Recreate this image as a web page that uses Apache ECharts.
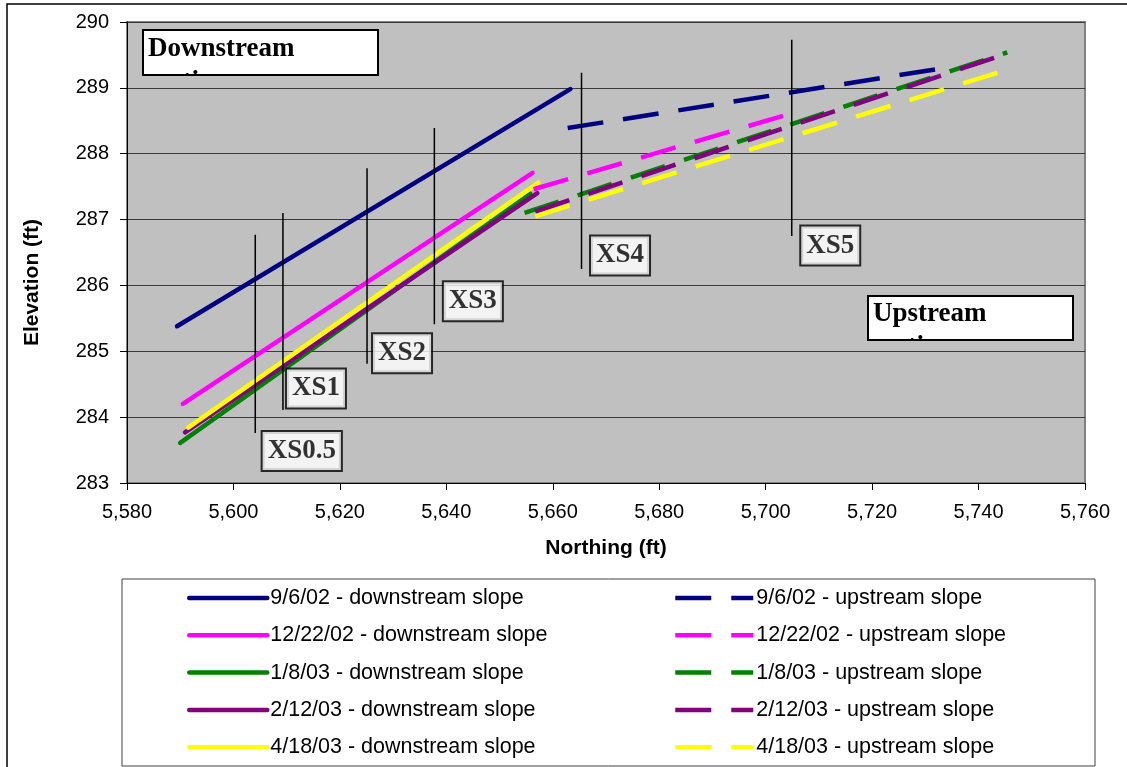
<!DOCTYPE html>
<html>
<head>
<meta charset="utf-8">
<script src="https://cdn.jsdelivr.net/npm/echarts@6/dist/echarts.min.js"></script>
<style>
html,body{margin:0;padding:0;background:#fff;}
#chart{width:1127px;height:767px;}
</style>
</head>
<body>
<div id="chart"></div>
<script>
// ---------- data ----------
const surveyDates = ['9/6/02', '12/22/02', '1/8/03', '2/12/03', '4/18/03'];

// downstream slope lines: [start, end]
const downNorthing = [
  [5589.4, 5663.3],
  [5590.5, 5656.2],
  [5590.0, 5655.8],
  [5590.9, 5657.1],
  [5591.5, 5657.3]
];
const downElevation = [
  [285.38, 288.98],
  [284.20, 287.71],
  [283.61, 287.39],
  [283.77, 287.40],
  [283.84, 287.56]
];

// upstream slope lines: [start, end]
const upNorthing = [
  [5662.8, 5732.6],
  [5656.4, 5706.8],
  [5654.7, 5745.4],
  [5656.7, 5743.4],
  [5656.7, 5744.4]
];
const upElevation = [
  [288.39, 289.29],
  [287.46, 288.66],
  [287.10, 289.54],
  [287.12, 289.47],
  [287.05, 289.25]
];

// cross-section marker lines
const xsNames    = ['XS0.5', 'XS1', 'XS2', 'XS3', 'XS4', 'XS5'];
const xsNorthing = [5604.1, 5609.3, 5625.1, 5637.75, 5665.4, 5704.9];
const xsTop      = [286.77, 287.10, 287.78, 288.39, 289.23, 289.73];
const xsBottom   = [283.76, 284.11, 284.81, 285.41, 286.25, 286.75];

// axis ticks
const xTickMin = 5580, xTickMax = 5760, xTickStep = 20;
const yTickMin = 283, yTickMax = 290, yTickStep = 1;

// ---------- styling ----------
const lineColors = ['#000080', '#FF00FF', '#008000', '#800080', '#FFFF00'];
const xsLabelOffsets = [[46.5, 18], [33, -21.5], [35, -10.5], [38.5, -23], [38.5, -13.5], [38.5, 9.5]];
const sansFont = 'Liberation Sans';
const serifFont = 'Liberation Serif';

function addCommas(v) {
  return String(v).replace(/\B(?=(\d{3})+(?!\d))/g, ',');
}

const series = [];
const downNames = surveyDates.map(d => d + ' - downstream slope');
const upNames = surveyDates.map(d => d + ' - upstream slope');

surveyDates.forEach((d, i) => {
  series.push({
    name: downNames[i],
    type: 'line',
    symbol: 'none',
    showSymbol: false,
    data: downNorthing[i].map((x, k) => [x, downElevation[i][k]]),
    lineStyle: { color: lineColors[i], width: 4.5, cap: 'round' },
    itemStyle: { color: lineColors[i] },
    z: 3
  });
});
surveyDates.forEach((d, i) => {
  series.push({
    name: upNames[i],
    type: 'line',
    symbol: 'none',
    showSymbol: false,
    data: upNorthing[i].map((x, k) => [x, upElevation[i][k]]),
    lineStyle: { color: lineColors[i], width: 4.5, type: [36, 20], cap: 'butt' },
    itemStyle: { color: lineColors[i] },
    z: 3
  });
});
xsNames.forEach((n, i) => {
  series.push({
    name: n + ' line',
    type: 'line',
    symbol: 'none',
    silent: true,
    data: [[xsNorthing[i], xsTop[i]], [xsNorthing[i], xsBottom[i]]],
    lineStyle: { color: '#000', width: 1.5 },
    z: 4
  });
});
series.push({
  name: 'XS labels',
  type: 'scatter',
  symbolSize: 1,
  silent: true,
  itemStyle: { color: 'rgba(0,0,0,0)' },
  data: xsNames.map((n, i) => ({
    value: [xsNorthing[i], xsBottom[i]],
    name: n,
    label: { offset: xsLabelOffsets[i] }
  })),
  label: {
    show: true,
    position: 'inside',
    formatter: p => p.name,
    fontFamily: serifFont,
    fontWeight: 'bold',
    fontSize: 27,
    lineHeight: 30,
    color: '#000',
    backgroundColor: '#fff',
    borderColor: '#000',
    borderWidth: 2,
    padding: [4, 5, 4, 5]
  },
  z: 10
});

const legendCommon = {
  orient: 'vertical',
  top: 587,
  itemWidth: 78,
  itemHeight: 14,
  itemGap: 15.3,
  padding: 0,
  selectedMode: false,
  textStyle: { fontFamily: sansFont, fontSize: 21.5, color: '#000', lineHeight: 22, padding: [0, 0, 0, -2] },
  itemStyle: { opacity: 0 },
  lineStyle: { width: 4.5, opacity: 1 }
};

const chart = echarts.init(document.getElementById('chart'), null, { renderer: 'canvas' });
chart.setOption({
  animation: false,
  backgroundColor: '#fff',
  grid: {
    left: 127, top: 22, width: 958, height: 461,
    show: true, backgroundColor: '#C0C0C0', borderColor: '#808080', borderWidth: 2
  },
  xAxis: {
    type: 'value',
    min: xTickMin, max: xTickMax, interval: xTickStep,
    name: 'Northing (ft)',
    nameLocation: 'middle',
    nameGap: 55,
    nameTextStyle: { fontFamily: sansFont, fontWeight: 'bold', fontSize: 21, color: '#000' },
    axisLine: { show: true, lineStyle: { color: '#000', width: 1 } },
    axisTick: { show: true, length: 7, lineStyle: { color: '#000' } },
    axisLabel: { margin: 19, fontFamily: sansFont, fontSize: 20, color: '#000', formatter: v => addCommas(v) },
    splitLine: { show: false }
  },
  yAxis: {
    type: 'value',
    min: yTickMin, max: yTickMax, interval: yTickStep,
    name: 'Elevation (ft)',
    nameLocation: 'middle',
    nameGap: 84,
    nameRotate: 90,
    nameTextStyle: { fontFamily: sansFont, fontWeight: 'bold', fontSize: 21, color: '#000', padding: [0, 60, 0, 0] },
    axisLine: { show: true, lineStyle: { color: '#000', width: 1 } },
    axisTick: { show: true, length: 7, lineStyle: { color: '#000' } },
    axisLabel: { margin: 18, fontFamily: sansFont, fontSize: 20, color: '#000' },
    splitLine: { show: true, lineStyle: { color: '#3a3a3a', width: 1 } }
  },
  legend: [
    Object.assign({}, legendCommon, { left: 187, data: downNames }),
    Object.assign({}, legendCommon, { left: 673, data: upNames })
  ],
  graphic: [
    // outer chart border
    { type: 'rect', shape: { x: 7, y: 4, width: 1140, height: 790 }, style: { fill: 'none', stroke: '#000', lineWidth: 1.5 }, z: 1, silent: true },
    // legend border
    { type: 'rect', shape: { x: 122, y: 579, width: 973, height: 187 }, style: { fill: 'none', stroke: '#404040', lineWidth: 1 }, z: 1, silent: true },
    // Downstream / Upstream text box backgrounds
    { type: 'rect', shape: { x: 143, y: 30, width: 235, height: 45 }, style: { fill: '#fff', stroke: 'none' }, z: 100, silent: true },
    { type: 'rect', shape: { x: 868, y: 296, width: 205, height: 44 }, style: { fill: '#fff', stroke: 'none' }, z: 100, silent: true },
    // borders
    { type: 'rect', shape: { x: 143, y: 30, width: 235, height: 45 }, style: { fill: 'none', stroke: '#000', lineWidth: 2 }, z: 103, silent: true },
    { type: 'rect', shape: { x: 868, y: 296, width: 205, height: 44 }, style: { fill: 'none', stroke: '#000', lineWidth: 2 }, z: 103, silent: true }
  ],
  series: series
});

// Text boxes whose second line is clipped by the box (as in the reference)
const boxFont = 'bold 27px "' + serifFont + '"';
const boxLineHeight = 33;
const measureCtx = document.createElement('canvas').getContext('2d');
measureCtx.font = boxFont;
measureCtx.textBaseline = 'middle';
const middleToBaseline = measureCtx.measureText('x').actualBoundingBoxDescent;

const zr = chart.getZr();
function clippedText(text, x, firstBaseline, box) {
  const y = firstBaseline - middleToBaseline - boxLineHeight / 2;
  const t = new echarts.graphic.Text({
    x: x, y: y, z: 101,
    style: {
      text: text, fontFamily: serifFont, fontWeight: 'bold', fontSize: 27,
      lineHeight: boxLineHeight, fill: '#000', verticalAlign: 'top', align: 'left'
    },
    silent: true
  });
  // clip path coordinates are local to the text element
  t.setClipPath(new echarts.graphic.Rect({
    shape: { x: box.x - x, y: box.y - y, width: box.width, height: box.height }
  }));
  zr.add(t);
}
clippedText('Downstream\nsection', 148, 56, { x: 143, y: 30, width: 235, height: 45 });
clippedText('Upstream\nsection', 873, 321, { x: 868, y: 296, width: 205, height: 44 });
</script>
</body>
</html>
